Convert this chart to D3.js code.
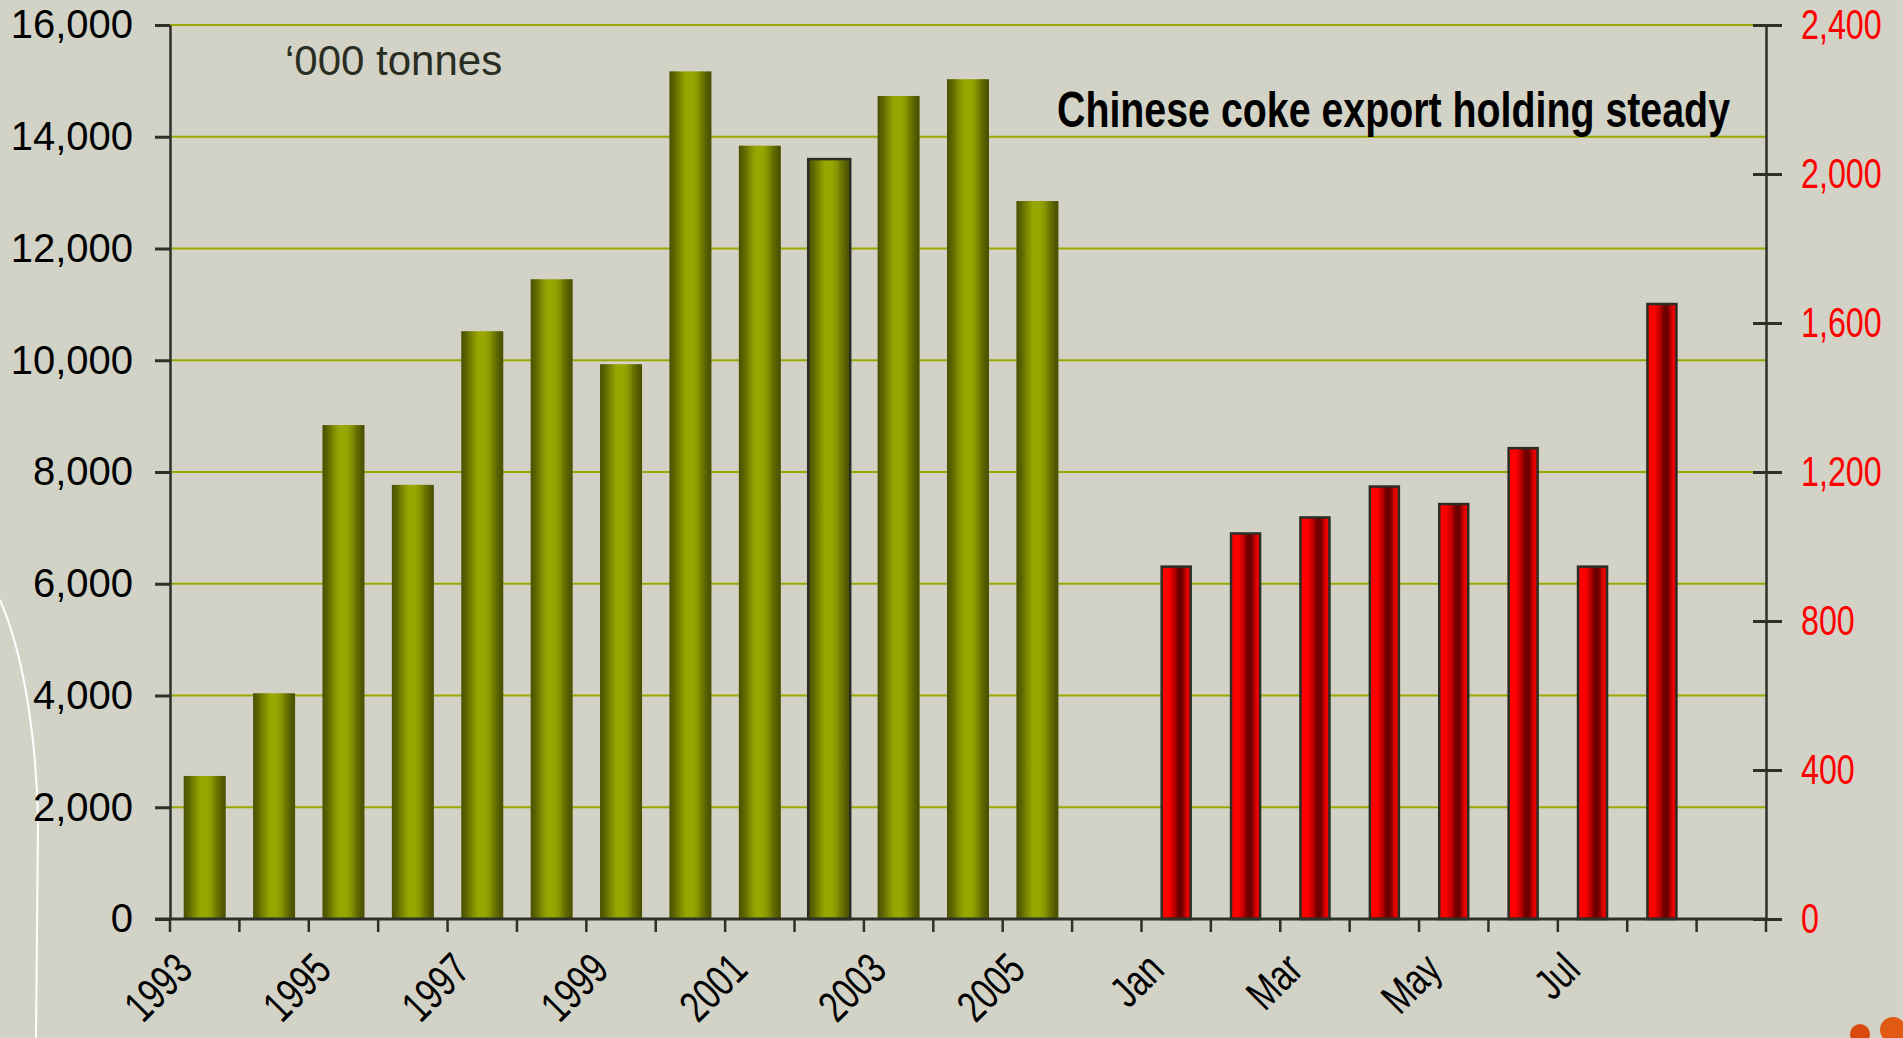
<!DOCTYPE html>
<html>
<head>
<meta charset="utf-8">
<style>
    body {
        margin: 0;
        background: #d2d2c6;
        overflow: hidden;
    }
    svg {
        display: block;
        font-family: Arial, 'Liberation Sans', sans-serif;
    }
</style>
</head>
<body>
<svg width="1903" height="1038"></svg>

<script src="https://d3js.org/d3.v7.min.js"></script>
<script>
    // yearly exports ('000 tonnes, left axis)
    const years = ["1993", "1994", "1995", "1996", "1997", "1998", "1999", "2000", "2001", "2002", "2003", "2004", "2005"];
    const yearlyExports = [2560, 4040, 8840, 7770, 10520, 11450, 9930, 15170, 13840, 13600, 14730, 15030, 12850];

    // monthly exports (right axis)
    const months = ["Jan", "Feb", "Mar", "Apr", "May", "Jun", "Jul", "Aug"];
    const monthlyExports = [946, 1035, 1078, 1161, 1114, 1264, 946, 1651];

    const leftTicks = [0, 2000, 4000, 6000, 8000, 10000, 12000, 14000, 16000];
    const rightTicks = [0, 400, 800, 1200, 1600, 2000, 2400];

    const categories = [...years, "gap1", ...months, "gap2"];

    let svg = d3.select("svg");

    let plotLeft = 170, plotRight = 1766, plotTop = 25, plotBottom = 919;

    let x = d3.scaleBand()
        .domain(categories)
        .range([plotLeft, plotRight]);

    let yL = d3.scaleLinear()
        .domain([0, 16000])
        .range([plotBottom, plotTop]);

    let yR = d3.scaleLinear()
        .domain([0, 2400])
        .range([plotBottom, plotTop]);

    let bw = x.bandwidth();

    let defs = svg.append("defs");

    let green = defs.append("linearGradient").attr("id", "green")
    green.selectAll("stop")
        .data([[0, "#4a5100"], [0.12, "#5c6500"], [0.27, "#808c00"], [0.4, "#98a600"], [0.56, "#98a600"],
               [0.68, "#879400"], [0.8, "#687200"], [0.92, "#525900"], [1, "#4a5000"]])
        .join("stop")
        .attr("offset", d => d[0])
        .attr("stop-color", d => d[1])

    let red = defs.append("linearGradient").attr("id", "red")
    red.selectAll("stop")
        .data([[0, "#ff0000"], [0.25, "#ff0000"], [0.45, "#b40000"], [0.57, "#6e0000"], [0.7, "#700000"],
               [0.86, "#e00000"], [1, "#ff0000"]])
        .join("stop")
        .attr("offset", d => d[0])
        .attr("stop-color", d => d[1])

    // slide decoration
    svg.append("path")
        .attr("d", "M0,600 C22,650 36,730 38,820 L36,1038")
        .style("fill", "none")
        .style("stroke", "white")
        .style("stroke-width", 2)

    svg.append("circle").attr("cx", 1860).attr("cy", 1034).attr("r", 10).style("fill", "#d84a10")
    svg.append("circle").attr("cx", 1893).attr("cy", 1030).attr("r", 13).style("fill", "#e05a14")

    // gridlines
    svg.selectAll(".grid")
        .data(leftTicks.filter(d => d > 0))
        .join("line")
        .attr("x1", plotLeft)
        .attr("x2", plotRight)
        .attr("y1", d => yL(d))
        .attr("y2", d => yL(d))
        .style("stroke", "#9aa800")
        .style("stroke-width", 2.2)

    // yearly bars
    let gw = 42;
    svg.selectAll(".yearbar")
        .data(years)
        .join("rect")
        .attr("x", (d, i) => x(d) + (bw - gw) / 2)
        .attr("y", (d, i) => yL(yearlyExports[i]))
        .attr("width", gw)
        .attr("height", (d, i) => plotBottom - yL(yearlyExports[i]))
        .style("fill", "url(#green)")
        .style("stroke", d => d == "2002" ? "#2b2e25" : "none")
        .style("stroke-width", 2.5)

    // monthly bars
    let rw = 29;
    svg.selectAll(".monthbar")
        .data(months)
        .join("rect")
        .attr("x", (d, i) => x(d) + (bw - rw) / 2)
        .attr("y", (d, i) => yR(monthlyExports[i]))
        .attr("width", rw)
        .attr("height", (d, i) => plotBottom - yR(monthlyExports[i]))
        .style("fill", "url(#red)")
        .style("stroke", "#2b2e25")
        .style("stroke-width", 2.5)

    // left axis
    let leftAxis = svg.append("g")
        .attr("transform", `translate(${plotLeft},0)`)
        .call(d3.axisLeft(yL).tickValues(leftTicks).tickSize(15).tickSizeOuter(0).tickPadding(22).tickFormat(d3.format(",")))
    leftAxis.select(".domain").style("stroke", "#2e3128").style("stroke-width", 2.5)
    leftAxis.selectAll("line").style("stroke", "#2e3128").style("stroke-width", 3)
    leftAxis.selectAll("text")
        .style("font-size", "40px")
        .style("fill", "black")

    // right axis, ticks cross the line
    let sx = 0.75;
    let rightAxis = svg.append("g")
        .attr("transform", `translate(${plotRight},0)`)
        .call(d3.axisRight(yR).tickValues(rightTicks).tickSize(16).tickSizeOuter(0).tickFormat(d3.format(",")))
    rightAxis.select(".domain").style("stroke", "#2e3128").style("stroke-width", 2.5)
    rightAxis.selectAll("line").attr("x1", -13).style("stroke", "#2e3128").style("stroke-width", 3)
    rightAxis.selectAll("text")
        .attr("x", 35 / sx)
        .attr("transform", `scale(${sx},1)`)
        .style("font-size", "43px")
        .style("fill", "#ff0000")

    // category axis
    svg.append("line")
        .attr("x1", plotLeft - 15)
        .attr("x2", plotRight)
        .attr("y1", plotBottom)
        .attr("y2", plotBottom)
        .style("stroke", "#2e3128")
        .style("stroke-width", 3)

    svg.selectAll(".xtick")
        .data([...categories.map(d => x(d)), plotRight])
        .join("line")
        .attr("x1", d => d)
        .attr("x2", d => d)
        .attr("y1", plotBottom)
        .attr("y2", plotBottom + 13)
        .style("stroke", "#2e3128")
        .style("stroke-width", 2.5)

    // labels on every other category, condensed like the source
    svg.selectAll(".xlabel")
        .data(categories.filter((d, i) => i % 2 == 0 && !d.startsWith("gap")))
        .join("text")
        .attr("transform", d => `translate(${x(d) + bw / 2 - 10},972) rotate(-45) scale(0.75,1)`)
        .attr("text-anchor", "end")
        .style("font-size", "44px")
        .style("fill", "black")
        .text(d => d)

    // notes
    svg.append("text")
        .attr("x", 285)
        .attr("y", 75)
        .style("font-size", "42px")
        .style("fill", "#2a2e22")
        .text("\u2018000 tonnes")

    svg.append("text")
        .attr("x", 1057)
        .attr("y", 127)
        .attr("textLength", 673)
        .attr("lengthAdjust", "spacingAndGlyphs")
        .style("font-size", "50px")
        .style("font-weight", "bold")
        .style("fill", "black")
        .text("Chinese coke export holding steady")
</script>
</body>
</html>
